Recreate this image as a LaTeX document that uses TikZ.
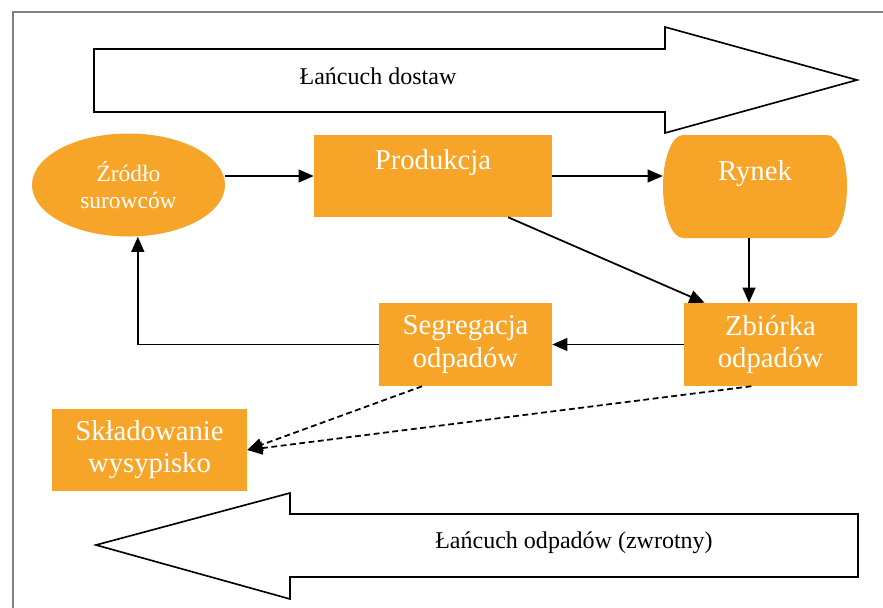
\documentclass[tikz,border=0pt]{standalone}
\usepackage{fontspec}
\setmainfont{Liberation Serif}
\usepackage{tikz}
\usetikzlibrary{positioning, shapes.geometric, arrows.meta, calc}
\definecolor{pomarancz}{RGB}{246,165,41}

\begin{document}
\begin{tikzpicture}[x=0.03cm, y=-0.03cm]
    \tikzset{
        blok/.style={
                rectangle, fill=pomarancz, text=white, align=center,
                font=\fontsize{24.5}{27.5}\selectfont, inner sep=0pt
            },
        owal/.style={
                ellipse, fill=pomarancz, text=white, align=center,
                font=\fontsize{20}{23}\selectfont, inner sep=0pt,
                minimum width=5.79cm, minimum height=3.09cm
            },
        strzalka/.style={line width=1.5pt, -{Triangle[length=13pt, width=11pt]}},
        przerywana/.style={strzalka, dash pattern=on 5pt off 3pt},
        pasek/.style={draw, line width=1.4pt, fill=white},
        etykieta/.style={font=\fontsize{20.5}{24}\selectfont, text=black}
    }

    \useasboundingbox (0,0) rectangle (883,608);
    % ramka
    \draw[gray, line width=0.9pt] (13,608) -- (13,12) -- (883,12);

    % --- górna strzałka: łańcuch dostaw ---
    \draw[pasek] (94,49) -- (665,49) -- (665,27) -- (857,80) -- (665,133) -- (665,112) -- (94,112) -- cycle;
    \node[etykieta] (dostawy) at (378,76) {Łańcuch dostaw};

    % --- bloki ---
    \node[owal] (zrodlo) at (128.5,185) {Źródło\\surowców};
    \node[blok, minimum width=7.14cm, minimum height=2.46cm] (prod) at (433,176) {Produkcja\\~};
    % rynek: boki zaokrąglone
    \fill[pomarancz] (683,135) -- (827,135) arc[start angle=-90, end angle=90, x radius=20, y radius=51.5]
        -- (683,238) arc[start angle=90, end angle=270, x radius=20, y radius=51.5] -- cycle;
    \node[blok, fill=none, minimum width=5.52cm, minimum height=3.09cm] (rynek) at (755,186.5) {Rynek\\~};
    \node[blok, minimum width=5.19cm, minimum height=2.49cm] (zbiorka) at (770.5,344.5) {Zbiórka\\odpadów};
    \node[blok, minimum width=5.19cm, minimum height=2.49cm] (segregacja) at (465.5,344.5) {Segregacja\\odpadów};
    \node[blok, minimum width=5.85cm, minimum height=2.46cm] (skladowanie) at (149.5,450) {Składowanie\\wysypisko};

    % --- połączenia ---
    \draw[strzalka] (zrodlo.east |- prod.west) -- (prod.west);
    \draw[strzalka] (prod.east) -- (prod.east -| rynek.west);
    \draw[strzalka] ($(prod.south)!0.63!(prod.south east)$) -- ($(zbiorka.north west)!0.12!(zbiorka.north east)$);
    \draw[strzalka] ([xshift=-0.18cm]rynek.south) -- ([xshift=-0.18cm]rynek.south |- zbiorka.north);
    \draw[strzalka] (zbiorka.west) -- (segregacja.east);
    \draw[strzalka] (segregacja.west) -| ([xshift=0.28cm]zrodlo.south);
    \draw[przerywana] ($(segregacja.south west)!0.25!(segregacja.south east)$) -- (skladowanie.east);
    \draw[przerywana] ($(zbiorka.south west)!0.39!(zbiorka.south east)$) -- (skladowanie.east);

    % --- dolna strzałka: łańcuch odpadów ---
    \draw[pasek] (858,514) -- (290,514) -- (290,493) -- (96,545) -- (290,599) -- (290,577) -- (858,577) -- cycle;
    \node[etykieta] (odpady) at (574,543) {Łańcuch odpadów (zwrotny)};
\end{tikzpicture}
\end{document}
